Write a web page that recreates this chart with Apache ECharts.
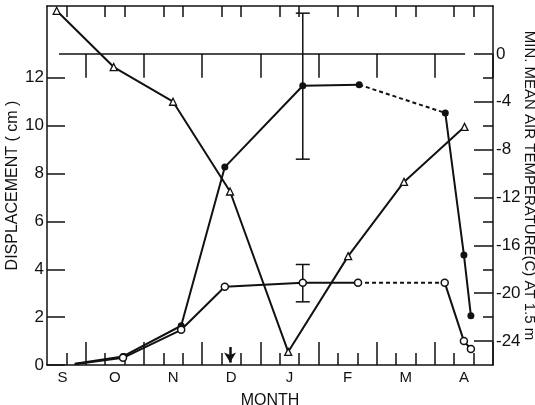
<!DOCTYPE html>
<html>
<head>
<meta charset="utf-8">
<title>Displacement and air temperature</title>
<script src="https://cdn.jsdelivr.net/npm/echarts@6/dist/echarts.min.js"></script>
<style>html,body{margin:0;padding:0;background:#fff;}</style>
</head>
<body>
<div id="main" style="width:535px;height:405px;"></div>
<script>
// x is in months counted from 1 September (1.5 = mid October)
var monthLabels = ['S', 'O', 'N', 'D', 'J', 'F', 'M', 'A'];
var monthLabelPos = [0.6, 1.5, 2.5, 3.5, 4.5, 5.5, 6.5, 7.5];
var monthStarts = [1, 2, 3, 4, 5, 6, 7, 8];
var dekadTicks = [2/3, 4/3, 5/3, 7/3, 8/3, 10/3, 11/3, 13/3, 14/3, 16/3, 17/3, 19/3, 20/3, 22/3, 23/3];
var dispTicks = [0, 2, 4, 6, 8, 10, 12];
var tempTicks = [-24, -20, -16, -12, -8, -4, 0];
var tempMinorTicks = [-22, -18, -14, -10, -6, -2];

// min. mean air temperature (C), triangles
var tempMonth = [0.50, 1.48, 2.50, 3.48, 4.48, 5.51, 6.47, 7.51];
var tempValue = [3.6, -1.1, -4.0, -11.5, -24.9, -16.9, -10.7, -6.1];

// displacement (cm), filled circles
var filledMonth = [0.81, 1.64, 2.64, 3.39, 4.73, 5.70, 7.18, 7.50, 7.62];
var filledDisp = [0.05, 0.36, 1.64, 8.27, 11.67, 11.71, 10.53, 4.6, 2.06];

// displacement (cm), open circles
var openMonth = [0.81, 1.64, 2.64, 3.39, 4.73, 5.68, 7.17, 7.50, 7.62];
var openDisp = [0.03, 0.30, 1.47, 3.27, 3.44, 3.44, 3.44, 1.0, 0.67];

// error bars in January
var errMonth = [4.73, 4.73];
var errLow = [8.6, 2.64];
var errHigh = [14.7, 4.2];

var arrowMonth = 3.48;
var zeroLineSpan = [0.54, 7.52];

function pairs(xs, ys) {
    return xs.map(function (x, i) {
        // the series start without a marker
        return i === 0 ? { value: [x, ys[i]], symbol: 'none' } : [x, ys[i]];
    });
}
var filledPts = pairs(filledMonth, filledDisp);
var openPts = pairs(openMonth, openDisp);
var tempPts = tempMonth.map(function (x, i) { return [x, tempValue[i]]; });

var font = 'Liberation Sans';
var ink = '#111';

function xAx(pos, ticks, len, extra) {
    return Object.assign({
        type: 'value', position: pos, min: 1/3, max: 8,
        axisLine: { show: true, onZero: false, lineStyle: { color: ink, width: 1.5 } },
        axisTick: { show: true, inside: true, length: len, customValues: ticks, lineStyle: { color: ink, width: 1.5 } },
        axisLabel: { show: false },
        splitLine: { show: false }
    }, extra || {});
}

var myChart = echarts.init(document.getElementById('main'));

myChart.setOption({
    backgroundColor: '#fff',
    animation: false,
    textStyle: { fontFamily: font, color: ink },
    grid: { left: 47, right: 42, top: 6, bottom: 40, outerBoundsMode: 'none', containLabel: false },
    xAxis: [
        xAx('bottom', dekadTicks, 12, {
            name: 'MONTH', nameLocation: 'middle', nameGap: 28, nameMoveOverlap: false,
            nameTextStyle: { fontSize: 16, color: ink, fontFamily: font },
            axisLabel: {
                show: true, customValues: monthLabelPos, margin: 5,
                fontSize: 15, color: ink, fontFamily: font,
                formatter: function (v) {
                    for (var i = 0; i < monthLabelPos.length; i++) {
                        if (Math.abs(monthLabelPos[i] - v) < 1e-6) return monthLabels[i];
                    }
                    return '';
                }
            }
        }),
        xAx('bottom', monthStarts, 23, { axisLine: { show: false } }),
        xAx('top', dekadTicks, 11),
        xAx('top', monthStarts, 24, { axisLine: { show: false } })
    ],
    yAxis: [
        {
            type: 'value', position: 'left', min: 0, max: 15,
            name: 'DISPLACEMENT ( cm )', nameLocation: 'middle', nameGap: 26, nameRotate: 90,
            nameMoveOverlap: false,
            nameTextStyle: { fontSize: 16, color: ink, fontFamily: font },
            axisLine: { show: true, onZero: false, lineStyle: { color: ink, width: 1.5 } },
            axisTick: { show: true, inside: true, length: 18, customValues: dispTicks, lineStyle: { color: ink, width: 1.5 } },
            axisLabel: { customValues: dispTicks, margin: 3, fontSize: 17, color: ink, fontFamily: font },
            splitLine: { show: false }
        },
        {
            type: 'value', position: 'right', min: -26, max: 4,
            name: 'MIN. MEAN AIR TEMPERATURE(C) AT 1.5 m', nameLocation: 'middle', nameGap: 29, nameRotate: -90,
            nameMoveOverlap: false,
            nameTextStyle: { fontSize: 15, color: ink, fontFamily: font },
            axisLine: { show: true, onZero: false, lineStyle: { color: ink, width: 1.5 } },
            axisTick: { show: true, inside: true, length: 19, customValues: tempTicks, lineStyle: { color: ink, width: 1.5 } },
            axisLabel: { customValues: tempTicks, margin: 3, fontSize: 17, color: ink, fontFamily: font },
            splitLine: { show: false }
        },
        {
            type: 'value', position: 'right', min: -26, max: 4,
            axisLine: { show: false },
            axisTick: { show: true, inside: true, length: 10, customValues: tempMinorTicks, lineStyle: { color: ink, width: 1.5 } },
            axisLabel: { show: false },
            splitLine: { show: false }
        }
    ],
    series: [
        // temperature, triangles
        {
            type: 'line', yAxisIndex: 1, data: tempPts,
            symbol: 'triangle', symbolSize: 7,
            itemStyle: { color: '#fff', borderColor: ink, borderWidth: 1.3 },
            lineStyle: { color: ink, width: 2 },
            z: 3,
            markLine: {
                silent: true, symbol: 'none', label: { show: false },
                lineStyle: { color: ink, width: 1.5, type: 'solid' },
                data: [[{ coord: [zeroLineSpan[0], 0] }, { coord: [zeroLineSpan[1], 0] }]]
            }
        },
        // filled circles: solid / dashed / solid
        {
            type: 'line', data: filledPts.slice(0, 6),
            symbol: 'circle', symbolSize: 7, showAllSymbol: true,
            itemStyle: { color: ink },
            lineStyle: { color: ink, width: 2 }, z: 4
        },
        {
            type: 'line', data: filledPts.slice(5, 7), symbol: 'none',
            lineStyle: { color: ink, width: 2, type: [4, 3] }, z: 4
        },
        {
            type: 'line', data: filledPts.slice(6),
            symbol: 'circle', symbolSize: 7,
            itemStyle: { color: ink },
            lineStyle: { color: ink, width: 2 }, z: 4
        },
        // open circles: solid / dashed / solid
        {
            type: 'line', data: openPts.slice(0, 6),
            symbol: 'circle', symbolSize: 7,
            itemStyle: { color: '#fff', borderColor: ink, borderWidth: 1.5 },
            lineStyle: { color: ink, width: 2 }, z: 4
        },
        {
            type: 'line', data: openPts.slice(5, 7), symbol: 'none',
            lineStyle: { color: ink, width: 2, type: [4, 3] }, z: 4
        },
        {
            type: 'line', data: openPts.slice(6),
            symbol: 'circle', symbolSize: 7,
            itemStyle: { color: '#fff', borderColor: ink, borderWidth: 1.5 },
            lineStyle: { color: ink, width: 2 }, z: 4,
            markLine: {
                silent: true, symbol: ['none', 'arrow'], symbolSize: [9, 10], label: { show: false },
                lineStyle: { color: ink, width: 2.5, type: 'solid' },
                data: [[{ coord: [arrowMonth, 0.75] }, { coord: [arrowMonth, 0.1] }]]
            }
        },
        // error bars
        {
            type: 'custom',
            data: errMonth.map(function (m, i) { return [m, errLow[i], errHigh[i]]; }),
            encode: { x: 0, y: [1, 2] },
            z: 2,
            renderItem: function (params, api) {
                var lo = api.coord([api.value(0), api.value(1)]);
                var hi = api.coord([api.value(0), api.value(2)]);
                var w = 7;
                var st = { stroke: ink, lineWidth: 1.5 };
                return {
                    type: 'group',
                    children: [
                        { type: 'line', shape: { x1: lo[0], y1: lo[1], x2: hi[0], y2: hi[1] }, style: st },
                        { type: 'line', shape: { x1: lo[0] - w, y1: lo[1], x2: lo[0] + w, y2: lo[1] }, style: st },
                        { type: 'line', shape: { x1: hi[0] - w, y1: hi[1], x2: hi[0] + w, y2: hi[1] }, style: st }
                    ]
                };
            }
        }
    ]
});
</script>
</body>
</html>
